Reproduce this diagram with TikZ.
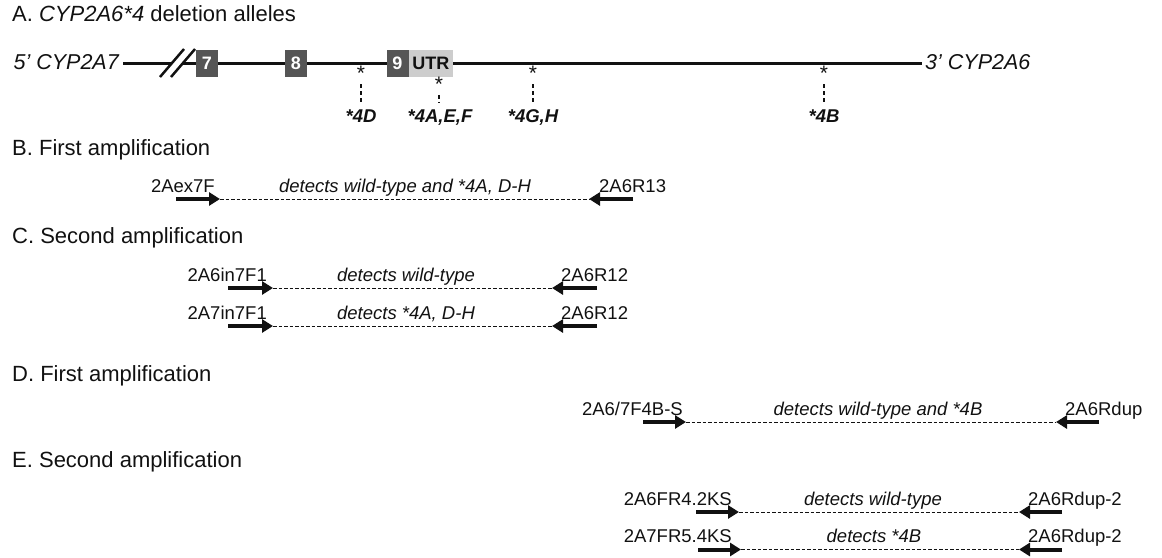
\documentclass[tikz,border=0pt]{standalone}
\usepackage{fontspec}
\setmainfont{Liberation Sans}
\usetikzlibrary{arrows.meta}
\definecolor{exgray}{HTML}{555555}
\definecolor{utrgray}{HTML}{CDCDCD}
\definecolor{ink}{HTML}{111111}
\begin{document}
\begin{tikzpicture}[x=1pt,y=-1pt,
  sec/.style={anchor=base west, inner sep=0, text=ink, font=\fontsize{22}{25}\selectfont},
  lbl/.style={inner sep=0, text=ink, font=\fontsize{18.5}{22}\selectfont},
  mid/.style={lbl, anchor=base, font=\fontsize{18.5}{22}\selectfont\itshape},
  endlbl/.style={inner sep=0, text=ink, font=\fontsize{21.5}{24}\selectfont\itshape},
  exon/.style={fill=exgray, minimum width=22pt, minimum height=27pt, inner sep=0, text=white, font=\fontsize{18}{20}\selectfont\bfseries},
  utr/.style={fill=utrgray, minimum width=44pt, minimum height=27pt, inner sep=0, text=ink, font=\fontsize{18}{20}\selectfont\bfseries},
  ast/.style={inner sep=0, anchor=north, text=ink, font=\fontsize{21}{22}\selectfont},
  alle/.style={inner sep=0, anchor=base, text=ink, font=\fontsize{18.5}{20}\selectfont\bfseries\itshape},
  mainline/.style={draw=ink, line width=3pt},
  slash/.style={draw=ink, line width=2.5pt},
  vdash/.style={draw=ink, line width=1.3pt, dash pattern=on 4pt off 3pt},
  primer/.style={draw=ink, line width=4pt, -{Triangle[length=11pt,width=13pt]}},
  amp/.style={draw=ink, line width=1pt, dash pattern=on 3.5pt off 2pt}
]
\useasboundingbox (0,0) rectangle (1162,557);

% ---------------- A ----------------
\node[sec] (tA) at (12,21) {A. \textit{CYP2A6*4} deletion alleles};
\node[endlbl, anchor=east] (p5) at (119,62) {5’ CYP2A7};
\node[endlbl, anchor=west] (p3) at (925,62) {3’ CYP2A6};
\coordinate (L0) at (123,63);
\coordinate (L1) at (172,63);
\coordinate (L2) at (183,63);
\coordinate (L3) at (922,63);
\draw[mainline] (L0) -- (L1);
\draw[mainline] (L2) -- (L3);
\draw[slash] (160,77) -- (184,49);
\draw[slash] (171,77) -- (195,49);
\node[exon] (e7) at (207,63) {7};
\node[exon] (e8) at (296,63) {8};
\node[exon] (e9) at (397.5,63) {9};
\node[utr, anchor=west] (utr) at (e9.east) {UTR};

\node[ast] (s4D) at (361,65.5) {*};
\node[ast] (s4A) at (439,77) {*};
\node[ast] (s4G) at (533,65.5) {*};
\node[ast] (s4B) at (824,65.5) {*};
\node[alle] (l4D) at (361,122) {*4D};
\node[alle] (l4A) at (440,122) {*4A,E,F};
\node[alle] (l4G) at (533,122) {*4G,H};
\node[alle] (l4B) at (824,122) {*4B};
\draw[vdash] ([yshift=-4pt]s4D.south) -- ([yshift=6pt]l4D.north -| s4D.south);
\draw[vdash] ([yshift=-3pt]s4A.south) -- ([yshift=6pt]l4A.north -| s4A.south);
\draw[vdash] ([yshift=-4pt]s4G.south) -- ([yshift=6pt]l4G.north -| s4G.south);
\draw[vdash] ([yshift=-4pt]s4B.south) -- ([yshift=6pt]l4B.north -| s4B.south);

% ---------------- B ----------------
\node[sec] (tB) at (12,155) {B. First amplification};
\coordinate (b1a) at (176,199);
\coordinate (b1b) at (220,199);
\coordinate (b1c) at (589,199);
\coordinate (b1d) at (633,199);
\draw[amp] (b1b) -- (b1c);
\draw[primer] (b1a) -- (b1b);
\draw[primer] (b1d) -- (b1c);
\node[lbl, anchor=base east] (b1l) at (215,192) {2Aex7F};
\node[lbl, anchor=base west] (b1r) at (599,192) {2A6R13};
\node[mid] (b1m) at (405,192) {detects wild-type and *4A, D-H};

% ---------------- C ----------------
\node[sec] (tC) at (12,243) {C. Second amplification};
\coordinate (c1a) at (228,288);
\coordinate (c1b) at (273,288);
\coordinate (c1c) at (552,288);
\coordinate (c1d) at (597,288);
\draw[amp] (c1b) -- (c1c);
\draw[primer] (c1a) -- (c1b);
\draw[primer] (c1d) -- (c1c);
\node[lbl, anchor=base east] (c1l) at (267,281) {2A6in7F1};
\node[lbl, anchor=base west] (c1r) at (561,281) {2A6R12};
\node[mid] (c1m) at (406,281) {detects wild-type};

\coordinate (c2a) at (228,326);
\coordinate (c2b) at (273,326);
\coordinate (c2c) at (552,326);
\coordinate (c2d) at (597,326);
\draw[amp] (c2b) -- (c2c);
\draw[primer] (c2a) -- (c2b);
\draw[primer] (c2d) -- (c2c);
\node[lbl, anchor=base east] (c2l) at (267,319) {2A7in7F1};
\node[lbl, anchor=base west] (c2r) at (561,319) {2A6R12};
\node[mid] (c2m) at (406,319) {detects *4A, D-H};

% ---------------- D ----------------
\node[sec] (tD) at (12,381) {D. First amplification};
\coordinate (d1a) at (643,422);
\coordinate (d1b) at (686,422);
\coordinate (d1c) at (1056,422);
\coordinate (d1d) at (1099,422);
\draw[amp] (d1b) -- (d1c);
\draw[primer] (d1a) -- (d1b);
\draw[primer] (d1d) -- (d1c);
\node[lbl, anchor=base east] (d1l) at (683,415) {2A6/7F4B-S};
\node[lbl, anchor=base west] (d1r) at (1065,415) {2A6Rdup};
\node[mid] (d1m) at (878,415) {detects wild-type and *4B};

% ---------------- E ----------------
\node[sec] (tE) at (12,467) {E. Second amplification};
\coordinate (e1a) at (696,512);
\coordinate (e1b) at (739,512);
\coordinate (e1c) at (1019,512);
\coordinate (e1d) at (1062,512);
\draw[amp] (e1b) -- (e1c);
\draw[primer] (e1a) -- (e1b);
\draw[primer] (e1d) -- (e1c);
\node[lbl, anchor=base east] (e1l) at (732,505) {2A6FR4.2KS};
\node[lbl, anchor=base west] (e1r) at (1028,505) {2A6Rdup-2};
\node[mid] (e1m) at (873,505) {detects wild-type};

\coordinate (e2a) at (698,549.5);
\coordinate (e2b) at (741,549.5);
\coordinate (e2c) at (1019,549.5);
\coordinate (e2d) at (1062,549.5);
\draw[amp] (e2b) -- (e2c);
\draw[primer] (e2a) -- (e2b);
\draw[primer] (e2d) -- (e2c);
\node[lbl, anchor=base east] (e2l) at (732,542.5) {2A7FR5.4KS};
\node[lbl, anchor=base west] (e2r) at (1028,542.5) {2A6Rdup-2};
\node[mid] (e2m) at (874,542.5) {detects *4B};
\end{tikzpicture}
\end{document}
